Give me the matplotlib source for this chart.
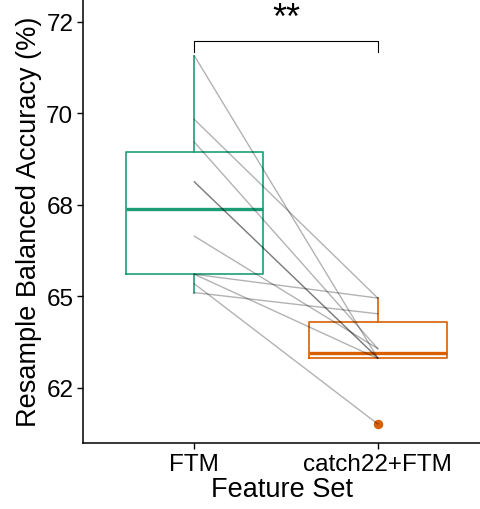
import matplotlib
matplotlib.use("Agg")
import matplotlib.pyplot as plt

plt.rcParams['font.family'] = ['Liberation Sans', 'DejaVu Sans']

# datos (10 remuestreos, emparejados por índice)
feature_sets = ["FTM", "catch22+FTM"]
ftm_acc = [71.57, 69.83, 69.21, 68.13, 68.12, 66.64, 65.60, 65.60, 65.34, 65.10]
combo_acc = [63.31, 64.95, 63.57, 63.31, 63.32, 63.57, 64.95, 63.30, 61.51, 64.52]
y_ticks = [62.5, 65, 67.5, 70, 72.5]
y_tick_labels = ["62", "65", "68", "70", "72"]
sig_label = "**"
sig_y = 71.98

colores = ["#1b9e77", "#d95f02"]

fig = plt.figure(figsize=(4.81, 5.10), dpi=100)
ax = fig.add_axes([83/481, 66/510, 398/481, 444/510])

# líneas emparejadas
for a, b in zip(ftm_acc, combo_acc):
    ax.plot([1, 2], [a, b], color="black", alpha=0.3, linewidth=1.0, zorder=3)

# cajas
for i, (vals, col) in enumerate(zip([ftm_acc, combo_acc], colores)):
    ax.boxplot(
        [vals], positions=[i + 1], widths=0.75, whis=1.5, showcaps=False,
        boxprops=dict(color=col, linewidth=1.2),
        whiskerprops=dict(color=col, linewidth=1.2),
        medianprops=dict(color=col, linewidth=2.4),
        flierprops=dict(marker="o", markerfacecolor=col, markeredgecolor=col,
                        markersize=5.8),
        zorder=2,
    )

# corchete de significancia
tip = 0.30
ax.plot([1, 1, 2, 2], [sig_y - tip, sig_y, sig_y, sig_y - tip],
        color="black", linewidth=0.8, zorder=4)
ax.text(1.5, sig_y + 0.36, sig_label, ha="center", va="baseline", fontsize=26,
        clip_on=False)

ax.set_xlim(0.393, 2.563)
ax.set_ylim(60.99, 73.12)
ax.set_xticks([1, 2])
ax.set_xticklabels(feature_sets, fontsize=17.5)
ax.set_yticks(y_ticks)
ax.set_yticklabels(y_tick_labels, fontsize=17.5)
ax.tick_params(length=4, width=1.0, color="black", labelcolor="black", pad=3)

for lado in ["top", "right"]:
    ax.spines[lado].set_visible(False)
for lado in ["left", "bottom"]:
    ax.spines[lado].set_linewidth(1.1)

ax.set_xlabel("Feature Set", fontsize=19.5, labelpad=1)
ax.set_ylabel("Resample Balanced Accuracy (%)", fontsize=19.5, labelpad=3)

fig.savefig("out.png", dpi=100)
